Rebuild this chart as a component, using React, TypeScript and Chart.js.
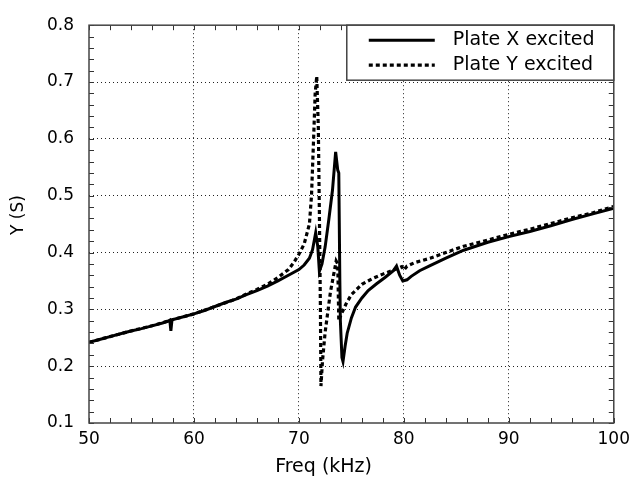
import React, { useEffect, useRef } from "react";
import { Chart, registerables } from "chart.js";

Chart.register(...registerables);

// Plate X excited (solid)
const FREQ_X = [50, 51, 52, 53, 54, 55, 56, 57, 57.5, 57.7, 57.8, 57.9, 58, 59, 60, 61, 62, 63, 64, 65, 66, 67, 68, 69, 70, 70.5, 71, 71.3, 71.6, 71.8, 71.95, 72.2, 72.5, 72.85, 73.2, 73.5, 73.7, 73.8, 73.9, 73.95, 74.1, 74.2, 74.4, 74.6, 75, 75.4, 76, 76.6, 77.4, 78.2, 79, 79.3, 79.6, 79.9, 80.3, 80.7, 81.5, 82.5, 84, 85.7, 88, 90, 92, 94, 96, 98, 100];
const Y_X = [0.242, 0.247, 0.252, 0.257, 0.262, 0.266, 0.271, 0.276, 0.279, 0.281, 0.262, 0.28, 0.282, 0.287, 0.292, 0.298, 0.305, 0.312, 0.318, 0.326, 0.333, 0.341, 0.35, 0.36, 0.37, 0.378, 0.39, 0.405, 0.435, 0.41, 0.367, 0.38, 0.41, 0.458, 0.51, 0.577, 0.545, 0.54, 0.35, 0.28, 0.215, 0.208, 0.235, 0.258, 0.285, 0.304, 0.32, 0.333, 0.345, 0.356, 0.368, 0.376, 0.36, 0.35, 0.352, 0.358, 0.368, 0.377, 0.39, 0.404, 0.418, 0.428, 0.437, 0.447, 0.458, 0.468, 0.478];

// Plate Y excited (dashed)
const FREQ_Y = [50, 52, 54, 56, 58, 60, 62, 64, 65, 66, 67, 68, 69, 69.5, 70, 70.5, 71, 71.2, 71.4, 71.55, 71.7, 71.85, 71.95, 72.05, 72.1, 72.25, 72.5, 73, 73.3, 73.55, 73.7, 73.8, 74, 74.5, 75, 76, 77, 78, 79, 79.8, 80, 80.3, 81, 82.5, 84, 85.7, 88, 90, 92, 94, 96, 98, 100];
const Y_Y = [0.242, 0.252, 0.262, 0.271, 0.282, 0.292, 0.305, 0.318, 0.327, 0.335, 0.344, 0.356, 0.37, 0.382, 0.397, 0.415, 0.45, 0.5, 0.6, 0.68, 0.71, 0.62, 0.47, 0.3, 0.165, 0.21, 0.26, 0.33, 0.36, 0.385, 0.38, 0.28, 0.29, 0.31, 0.326, 0.344, 0.354, 0.362, 0.369, 0.375, 0.369, 0.376, 0.382, 0.39, 0.4, 0.411, 0.422, 0.432, 0.441, 0.451, 0.461, 0.47, 0.481];

const SERIES_LABELS = ["Plate X excited", "Plate Y excited"];
const X_MIN = 50, X_MAX = 100, X_STEP = 10, X_MINOR = 2;
const Y_MIN = 0.1, Y_MAX = 0.8, Y_STEP = 0.1, Y_MINOR = 0.02;
const X_TITLE = "Freq (kHz)";
const Y_TITLE = "Y (S)";

const FONT = "'DejaVu Sans', sans-serif";

const framePlugin = {
  id: "framePlugin",
  afterDraw(chart: any) {
    const { ctx, chartArea: a, scales } = chart;
    const xs = scales.x, ys = scales.y;
    ctx.save();
    // minor/major ticks inward on all sides
    ctx.strokeStyle = "#333";
    ctx.lineWidth = 1;
    const tl = 5;
    for (let v = X_MIN; v <= X_MAX + 1e-9; v += X_MINOR) {
      const px = Math.round(xs.getPixelForValue(v)) + 0.5;
      ctx.beginPath();
      ctx.moveTo(px, a.bottom); ctx.lineTo(px, a.bottom - tl);
      ctx.moveTo(px, a.top); ctx.lineTo(px, a.top + tl);
      ctx.stroke();
    }
    for (let v = Y_MIN; v <= Y_MAX + 1e-9; v += Y_MINOR) {
      const py = Math.round(ys.getPixelForValue(v)) + 0.5;
      ctx.beginPath();
      ctx.moveTo(a.left, py); ctx.lineTo(a.left + tl, py);
      ctx.moveTo(a.right, py); ctx.lineTo(a.right - tl, py);
      ctx.stroke();
    }
    // frame
    ctx.strokeStyle = "#444";
    ctx.lineWidth = 1.5;
    ctx.strokeRect(a.left, a.top, a.right - a.left, a.bottom - a.top);

    // axis titles
    ctx.fillStyle = "#000";
    ctx.font = `19px ${FONT}`;
    ctx.textAlign = "center";
    ctx.textBaseline = "middle";
    ctx.fillText(X_TITLE, a.left + 0.447 * (a.right - a.left), 467);
    ctx.save();
    ctx.translate(19, 215);
    ctx.rotate(-Math.PI / 2);
    ctx.font = `17px ${FONT}`;
    ctx.fillText(Y_TITLE, 0, 0);
    ctx.restore();

    // legend box
    const bx = a.right - 267, by = a.top, bw = 267, bh = 55;
    ctx.fillStyle = "#fff";
    ctx.fillRect(bx, by, bw, bh);
    ctx.strokeStyle = "#444";
    ctx.lineWidth = 1.5;
    ctx.strokeRect(bx, by, bw, bh);
    chart.data.datasets.forEach((ds: any, i: number) => {
      const cy = by + 15 + i * 25;
      ctx.strokeStyle = ds.borderColor;
      ctx.lineWidth = ds.borderWidth;
      ctx.setLineDash(ds.borderDash || []);
      ctx.beginPath();
      ctx.moveTo(bx + 22, cy);
      ctx.lineTo(bx + 88, cy);
      ctx.stroke();
      ctx.setLineDash([]);
      ctx.fillStyle = "#000";
      ctx.font = `19px ${FONT}`;
      ctx.textAlign = "left";
      ctx.textBaseline = "middle";
      ctx.fillText(ds.label, bx + 106, cy);
    });
    ctx.restore();
  },
};

export default function App() {
  const ref = useRef<HTMLCanvasElement>(null);
  useEffect(() => {
    document.body.style.margin = "0";
    const ptsX = FREQ_X.map((f, i) => ({ x: f, y: Y_X[i] }));
    const ptsY = FREQ_Y.map((f, i) => ({ x: f, y: Y_Y[i] }));
    const edgeColor = (min: number, max: number) => (c: any) => {
      const v = c.tick ? c.tick.value : null;
      if (v === null) return "rgba(0,0,0,0)";
      if (Math.abs(v - min) < 1e-6 || Math.abs(v - max) < 1e-6) return "rgba(0,0,0,0)";
      return "#222";
    };
    const chart = new Chart(ref.current!, {
      type: "line",
      data: {
        datasets: [
          { label: SERIES_LABELS[0], data: ptsX, borderColor: "#000", borderWidth: 3, pointRadius: 0, tension: 0, fill: false },
          { label: SERIES_LABELS[1], data: ptsY, borderColor: "#000", borderWidth: 3.2, borderDash: [4, 3], pointRadius: 0, tension: 0, fill: false },
        ],
      },
      options: {
        animation: false,
        responsive: false,
        events: [],
        layout: { padding: { top: 18, right: 19, left: 0, bottom: 0 } },
        plugins: { legend: { display: false }, tooltip: { enabled: false } },
        scales: {
          x: {
            type: "linear",
            min: X_MIN, max: X_MAX,
            ticks: { stepSize: X_STEP, color: "#000", font: { family: FONT, size: 17 }, padding: 6, maxRotation: 0 },
            grid: { color: edgeColor(X_MIN, X_MAX), lineWidth: 1, drawTicks: false },
            border: { display: false, dash: [1, 3] },
            afterFit: (s: any) => { s.height = 62; },
          },
          y: {
            type: "linear",
            min: Y_MIN, max: Y_MAX,
            ticks: { stepSize: Y_STEP, color: "#000", font: { family: FONT, size: 17 }, padding: 15, callback: (v: any) => Number(v).toFixed(1) },
            grid: { color: edgeColor(Y_MIN, Y_MAX), lineWidth: 1, drawTicks: false },
            border: { display: false, dash: [1, 3] },
            afterFit: (s: any) => { s.width = 89; },
          },
        },
      },
      plugins: [framePlugin],
    });
    return () => chart.destroy();
  }, []);
  return (
    <div style={{ width: 636, height: 485, background: "#fff" }}>
      <canvas ref={ref} width={636} height={485} style={{ display: "block" }} />
    </div>
  );
}
